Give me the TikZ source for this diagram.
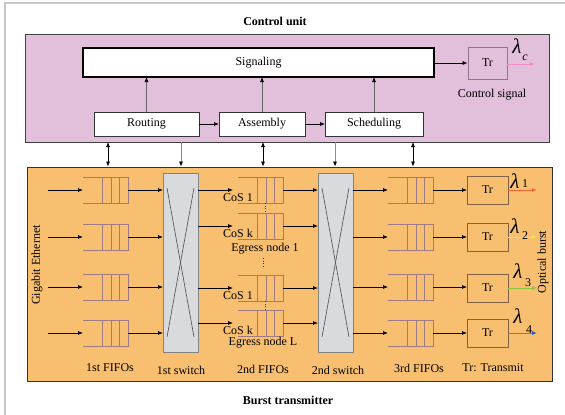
\documentclass[tikz,border=0pt]{standalone}
\usepackage{fontspec}
\setmainfont{Liberation Serif}
\usetikzlibrary{arrows.meta}
\definecolor{pinkc}{RGB}{226,191,218}
\definecolor{orangec}{RGB}{247,191,111}
\definecolor{swfill}{RGB}{217,218,221}
\definecolor{swdraw}{RGB}{130,130,130}
\definecolor{fifoc}{RGB}{156,123,130}
\definecolor{trc}{RGB}{127,98,68}
\definecolor{trcc}{RGB}{140,120,140}
\definecolor{lamA}{RGB}{242,101,50}
\definecolor{lamB}{RGB}{232,232,70}
\definecolor{lamC}{RGB}{141,198,63}
\definecolor{lamD}{RGB}{110,125,165}
\definecolor{lamDh}{RGB}{35,85,200}
\definecolor{lamc}{RGB}{240,140,200}
\definecolor{framec}{RGB}{200,200,200}
\newcommand{\myfifo}[3]{%
  \node[fifonode] (#1) at (#2,#3) {};
  \draw[fifoline] (#1.north west) -- (#1.north east) -- (#1.south east) -- (#1.south west);
  \draw[fifoline] ([xshift=-9pt]#1.north east) -- ([xshift=-9pt]#1.south east);
  \draw[fifoline] ([xshift=-17pt]#1.north east) -- ([xshift=-17pt]#1.south east);
  \draw[fifoline] ([xshift=-26pt]#1.north east) -- ([xshift=-26pt]#1.south east);
}
\begin{document}
\begin{tikzpicture}[x=1pt,y=-1pt,
  font=\fontsize{12}{14}\selectfont,
  arr/.style={-{Latex[length=5pt,width=4pt]}, line width=0.7pt, black},
  darr/.style={{Latex[length=5pt,width=4pt]}-{Latex[length=5pt,width=4pt]}, line width=0.7pt, black},
  dnarr/.style={-{Latex[length=5pt,width=4pt,color=black,fill=black]}, line width=0.7pt, draw=black!45},
  uparr/.style={-{Latex[length=5pt,width=4pt,color=black,fill=black]}, line width=0.7pt, draw=black!60},
  cbox/.style={draw=black!80, fill=white, line width=0.8pt, inner sep=0pt, outer sep=0pt},
  fifonode/.style={minimum width=45pt, minimum height=26pt, inner sep=0pt, outer sep=0pt},
  fifoline/.style={draw=fifoc, line width=0.8pt},
  swbox/.style={draw=swdraw, fill=swfill, line width=0.8pt, minimum width=35pt, minimum height=179pt, inner sep=0pt, outer sep=0pt},
  trbox/.style={draw=trc, line width=0.8pt, minimum width=41pt, minimum height=28pt, inner sep=0pt, outer sep=0pt},
  lam/.style={font=\fontsize{21}{21}\selectfont\itshape, inner sep=0pt},
  sub/.style={font=\fontsize{12}{12}\selectfont, inner sep=0pt},
  cos/.style={inner sep=0pt},
  dots/.style={dotted, line width=0.7pt, black!80}
]
\useasboundingbox (0,0) rectangle (565,415);
\fill[white] (0,0) rectangle (565,415);
\draw[framec, line width=1.5pt] (5,415) -- (5,3) -- (565,3);

% titles
\node[font=\fontsize{12}{14}\selectfont\bfseries] (cutitle) at (275,21) {Control unit};
\node[font=\fontsize{12}{14}\selectfont\bfseries] (bttitle) at (288,400) {Burst transmitter};

% main boxes
\node[draw=black!75, fill=pinkc, line width=0.8pt, minimum width=524pt, minimum height=108pt, inner sep=0pt] (pink) at (287,88) {};
\node[draw=black!80, fill=orangec, line width=0.8pt, minimum width=525pt, minimum height=214pt, inner sep=0pt] (orange) at (289.5,274) {};

% control unit
\node[cbox, draw=black, line width=1.3pt, minimum width=351pt, minimum height=29pt] (sig) at (258.5,62.5) {Signaling};
\node[cbox, minimum width=105pt, minimum height=24pt] (rout) at (146.5,124) {Routing};
\node[cbox, minimum width=86pt, minimum height=24pt] (asm) at (262,124) {Assembly};
\node[cbox, minimum width=98pt, minimum height=24pt] (sched) at (374,124) {Scheduling};
\node[draw=trcc, line width=0.8pt, minimum width=39pt, minimum height=32pt, inner sep=0pt] (trctl) at (487.5,63) {Tr};
\node (ctlsig) at (492,95) {Control signal};
\coordinate (lcend) at (535,64);
\node[lam] (lc) at (517,46) {λ};
\node[sub, font=\fontsize{12}{12}\selectfont\itshape] (lcs) at (525,58) {c};

\draw[uparr] (rout.north) -- (rout.north |- sig.south);
\draw[uparr] (asm.north) -- (asm.north |- sig.south);
\draw[uparr] (sched.north) -- (sched.north |- sig.south);
\draw[arr] (rout.east) -- (asm.west);
\draw[arr] (asm.east) -- (sched.west);
\draw[arr] (sig.east |- trctl.west) -- (trctl.west);
\draw[-{Latex[length=5pt,width=4pt]}, line width=0.9pt, lamc] (trctl.east |- lcend) -- (lcend);

% links between control unit and transmitter
\coordinate (v1) at (108,142);
\coordinate (v2) at (181,142);
\coordinate (v3) at (263,142);
\coordinate (v4) at (335,142);
\coordinate (v5) at (413,142);
\draw[darr] (v1) -- (v1 |- orange.north);
\draw[dnarr] (v2) -- (v2 |- orange.north);
\draw[darr] (v3) -- (v3 |- orange.north);
\draw[dnarr] (v4) -- (v4 |- orange.north);
\draw[darr] (v5) -- (v5 |- orange.north);

% side labels
\node[rotate=90] (gbe) at (37,265) {Gigabit Ethernet};
\node[rotate=90] (optb) at (543,262) {Optical burst};

% 1st FIFOs
\myfifo{fa}{105.5}{190}
\myfifo{fb}{105.5}{237}
\myfifo{fc}{105.5}{287}
\myfifo{fd}{105.5}{333}
\coordinate (ia) at (48,190);
\coordinate (ib) at (48,237);
\coordinate (ic) at (48,287);
\coordinate (id) at (48,333);
\draw[arr] (ia) -- (fa.west);
\draw[arr] (ib) -- (fb.west);
\draw[arr] (ic) -- (fc.west);
\draw[arr] (id) -- (fd.west);

% 1st switch
\node[swbox] (sw1) at (180.5,262.5) {};
\draw[black!70, line width=0.6pt] ([shift={(4,15)}]sw1.north west) -- ([shift={(-4,-15)}]sw1.south east);
\draw[black!70, line width=0.6pt] ([shift={(-4,15)}]sw1.north east) -- ([shift={(4,-15)}]sw1.south west);
\draw[arr] (fa.east) -- (fa.east -| sw1.west);
\draw[arr] (fb.east) -- (fb.east -| sw1.west);
\draw[arr] (fc.east) -- (fc.east -| sw1.west);
\draw[arr] (fd.east) -- (fd.east -| sw1.west);

% 2nd FIFOs
\myfifo{ga}{260.5}{190}
\myfifo{gb}{260.5}{226}
\myfifo{gc}{260.5}{288}
\myfifo{gd}{260.5}{323}
\draw[arr] (sw1.east |- ga.west) -- ([xshift=-5pt]ga.west);
\draw[arr] (sw1.east |- gb.west) -- ([xshift=-5pt]gb.west);
\draw[arr] (sw1.east |- gc.west) -- ([xshift=-5pt]gc.west);
\draw[arr] (sw1.east |- gd.west) -- ([xshift=-5pt]gd.west);
\node[cos] (ca) at (238,198) {CoS 1};
\node[cos] (cb) at (238,233) {CoS k};
\node[cos] (cc) at (238,296) {CoS 1};
\node[cos] (cd) at (238,330) {CoS k};
\node[inner sep=0pt] (eg1) at (265,249) {Egress node 1};
\node[inner sep=0pt] (egl) at (263,343) {Egress node L};
\draw[dots] ([xshift=4.5pt]ga.south) -- ([xshift=4.5pt]gb.north);
\draw[dots] ([xshift=4.5pt]gc.south) -- ([xshift=4.5pt]gd.north);
\coordinate (dg1) at (263,258);
\coordinate (dg2) at (263,268);
\draw[dots] (dg1) -- (dg2);

% 2nd switch
\node[swbox] (sw2) at (335.5,262.5) {};
\draw[black!70, line width=0.6pt] ([shift={(4,15)}]sw2.north west) -- ([shift={(-4,-15)}]sw2.south east);
\draw[black!70, line width=0.6pt] ([shift={(-4,15)}]sw2.north east) -- ([shift={(4,-15)}]sw2.south west);
\draw[arr] (ga.east) -- (ga.east -| sw2.west);
\draw[arr] (gb.east) -- (gb.east -| sw2.west);
\draw[arr] (gc.east) -- (gc.east -| sw2.west);
\draw[arr] (gd.east) -- (gd.east -| sw2.west);

% 3rd FIFOs
\myfifo{ha}{410.5}{190}
\myfifo{hb}{410.5}{237}
\myfifo{hc}{410.5}{287}
\myfifo{hd}{410.5}{333}
\draw[arr] (sw2.east |- ha.west) -- (ha.west);
\draw[arr] (sw2.east |- hb.west) -- (hb.west);
\draw[arr] (sw2.east |- hc.west) -- (hc.west);
\draw[arr] (sw2.east |- hd.west) -- (hd.west);

% transmitters
\node[trbox] (ta) at (487.5,190) {Tr};
\node[trbox] (tb) at (487.5,237) {Tr};
\node[trbox] (tc) at (487.5,288) {Tr};
\node[trbox] (td) at (487.5,333) {Tr};
\draw[arr] (ha.east) -- (ha.east -| ta.west);
\draw[arr] (hb.east) -- (hb.east -| tb.west);
\draw[arr] (hc.east) -- (hc.east -| tc.west);
\draw[arr] (hd.east) -- (hd.east -| td.west);
\coordinate (oa) at (537,190);
\coordinate (ob) at (537,237);
\coordinate (oc) at (537,288);
\coordinate (od) at (537,333);
\draw[-{Latex[length=5pt,width=4pt]}, line width=0.9pt, lamA] (ta.east) -- (oa);
\draw[-{Latex[length=5pt,width=4pt]}, line width=0.9pt, lamB] (tb.east) -- (ob);
\draw[-{Latex[length=5pt,width=4pt]}, line width=0.9pt, lamC] (tc.east) -- (oc);
\draw[-{Latex[length=5pt,width=4pt,fill=lamDh,color=lamDh]}, line width=0.9pt, lamD] (td.east) -- (od);
\node[lam] (l1) at (515,181) {λ};
\node[sub] (l1s) at (525,184) {1};
\node[lam] (l2) at (515,226) {λ};
\node[sub] (l2s) at (525,236) {2};
\node[lam] (l3) at (518,271) {λ};
\node[sub] (l3s) at (528,283) {3};
\node[lam] (l4) at (518,316) {λ};
\node[sub] (l4s) at (529,330) {4};

% bottom labels
\node (lb1) at (110,368) {1st FIFOs};
\node (lb2) at (181,370) {1st switch};
\node (lb3) at (263,369) {2nd FIFOs};
\node (lb4) at (338,370) {2nd switch};
\node (lb5) at (419,368) {3rd FIFOs};
\node (lb6) at (493,368) {Tr: Transmit};
\end{tikzpicture}
\end{document}
